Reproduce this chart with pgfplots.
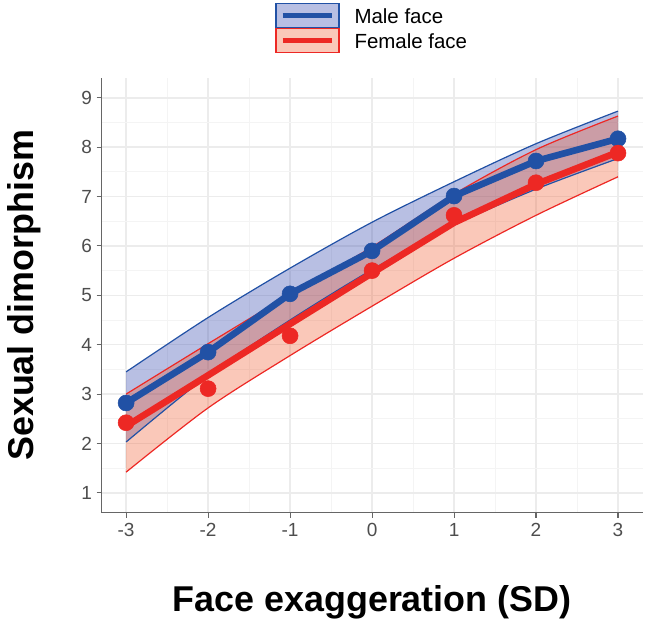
\documentclass[border=0pt]{standalone}
\usepackage{fontspec}
\setmainfont{Liberation Sans}
\usepackage{pgfplots}
\pgfplotsset{compat=1.18}
\usepackage{pgfplotstable}
\usepgfplotslibrary{fillbetween}

\definecolor{malecol}{RGB}{33,81,165}
\definecolor{malefill}{RGB}{40,60,170}
\definecolor{femcol}{RGB}{237,40,36}
\definecolor{femfill}{RGB}{240,88,43}
\definecolor{tickgrey}{RGB}{77,77,77}
\definecolor{gridmaj}{RGB}{236,236,236}
\definecolor{gridmin}{RGB}{244,244,244}

% x = exaggeration (SD); mean = observed; fit = model line; lo/hi = ribbon
\pgfplotstableread{
x  mean fit  lo   hi
-3 2.82 2.82 2.03 3.45
-2 3.85 3.85 3.38 4.55
-1 5.03 5.03 4.50 5.55
0  5.90 5.90 5.52 6.48
1  7.01 7.01 6.42 7.30
2  7.72 7.72 7.15 8.07
3  8.17 8.17 7.77 8.73
}\maletab

\pgfplotstableread{
x  mean fit  lo   hi
-3 2.42 2.35 1.42 3.00
-2 3.11 3.38 2.72 4.02
-1 4.18 4.42 3.78 5.02
0  5.50 5.45 4.78 5.98
1  6.62 6.47 5.75 7.05
2  7.28 7.25 6.62 7.95
3  7.88 7.90 7.40 8.63
}\femtab

\begin{document}
\begin{tikzpicture}
\begin{axis}[
    scale only axis,
    width=405.75bp, height=325.9bp,
    xmin=-3.3, xmax=3.3,
    ymin=0.6, ymax=9.4,
    axis x line*=bottom, axis y line*=left,
    axis line style={black!60, line width=0.8bp},
    xtick={-3,-2,-1,0,1,2,3},
    xticklabels={-3,-2,-1,0,1,2,3},
    ytick={1,2,3,4,5,6,7,8,9},
    yticklabels={1,2,3,4,5,6,7,8,9},
    minor tick num=1,
    tick align=outside,
    major tick length=3.75bp,
    minor tick length=0pt,
    major tick style={black!60, line width=0.8bp},
    grid=both,
    major grid style={gridmaj, line width=1.1bp},
    minor grid style={gridmin, line width=0.7bp},
    ticklabel style={font=\fontsize{14.3}{17}\selectfont, text=tickgrey, inner sep=0pt},
    yticklabel style={anchor=east, xshift=-3.2bp},
    xticklabel style={anchor=north, yshift=-4bp},
    xlabel={Face exaggeration (SD)},
    ylabel={Sexual dimorphism},
    xlabel style={at={(axis description cs:0.5,-0.2285)}, anchor=base,
        font=\bfseries\fontsize{27}{32}\selectfont},
    ylabel style={at={(axis description cs:-0.1266,0.5)}, anchor=base,
        font=\bfseries\fontsize{27}{32}\selectfont},
    legend cell align=left,
    legend style={draw=none, fill=none,
        at={(axis description cs:0.3207,1.1732)}, anchor=north west,
        inner xsep=0pt, inner ysep=0pt, row sep=-0.15bp,
        font=\fontsize{15.4}{18}\selectfont,
        nodes={inner sep=0pt, text depth=0pt},
        /tikz/every odd column/.append style={column sep=11.25bp}},
]
% male ribbon
\addplot[draw=none, name path=mhi, smooth, forget plot] table[x=x, y=hi] {\maletab};
\addplot[draw=none, name path=mlo, smooth, forget plot] table[x=x, y=lo] {\maletab};
\addplot[malefill, fill opacity=0.33, draw=none, forget plot] fill between[of=mhi and mlo];
\addplot[malecol, line width=0.9bp, smooth, forget plot] table[x=x, y=hi] {\maletab};
\addplot[malecol, line width=0.9bp, smooth, forget plot] table[x=x, y=lo] {\maletab};
% female ribbon
\addplot[draw=none, name path=fhi, smooth, forget plot] table[x=x, y=hi] {\femtab};
\addplot[draw=none, name path=flo, smooth, forget plot] table[x=x, y=lo] {\femtab};
\addplot[femfill, fill opacity=0.33, draw=none, forget plot] fill between[of=fhi and flo];
\addplot[femcol, line width=0.9bp, smooth, forget plot] table[x=x, y=hi] {\femtab};
\addplot[femcol, line width=0.9bp, smooth, forget plot] table[x=x, y=lo] {\femtab};
% fitted lines
\addplot[malecol, line width=5bp, line join=round, line cap=round, forget plot] table[x=x, y=fit] {\maletab};
\addplot[femcol, line width=5bp, line join=round, line cap=round, forget plot] table[x=x, y=fit] {\femtab};
% observed means
\addplot[only marks, mark=*, mark size=6bp, malecol, forget plot] table[x=x, y=mean] {\maletab};
\addplot[only marks, mark=*, mark size=6bp, femcol, forget plot] table[x=x, y=mean] {\femtab};

\addlegendimage{legend image code/.code={
    \draw[draw=malecol, fill=malefill, fill opacity=0.33, line width=0.9bp] (0bp,-9bp) rectangle (47.25bp,9bp);
    \draw[malecol, line width=4bp] (5bp,0bp) -- (42.25bp,0bp);}}
\addlegendentry{Male face}
\addlegendimage{legend image code/.code={
    \draw[draw=femcol, fill=femfill, fill opacity=0.33, line width=0.9bp] (0bp,-9bp) rectangle (47.25bp,9bp);
    \draw[femcol, line width=4bp] (5bp,0bp) -- (42.25bp,0bp);}}
\addlegendentry{Female face}
\end{axis}
\pgfresetboundingbox
\path[use as bounding box] (-76.125bp,-80.25bp) rectangle (407.55bp,384.4bp);
\end{tikzpicture}
\end{document}
